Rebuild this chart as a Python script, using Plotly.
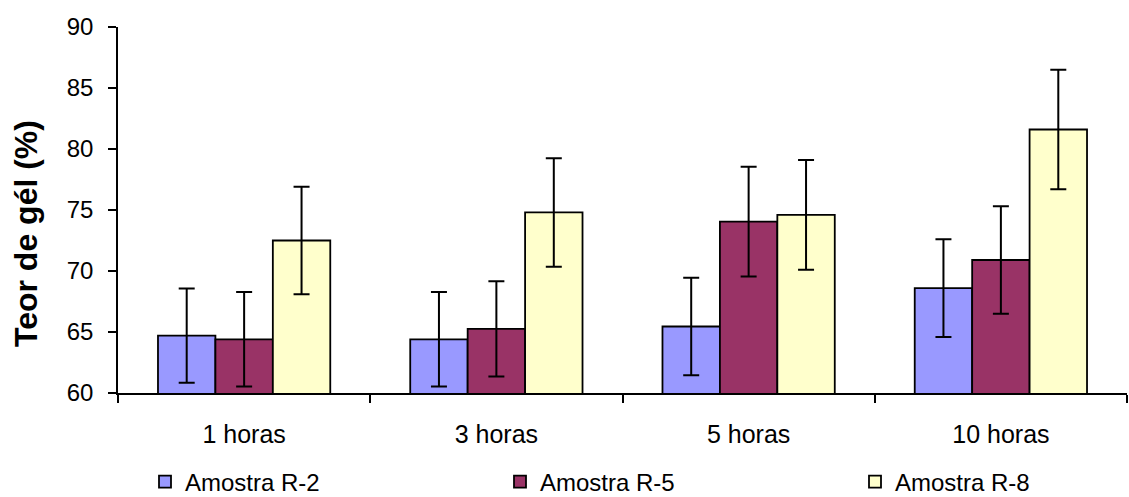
import plotly.graph_objects as go

categories = ["1 horas", "3 horas", "5 horas", "10 horas"]
series_names = ["Amostra R-2", "Amostra R-5", "Amostra R-8"]
r2_values = [64.7, 64.4, 65.45, 68.6]
r2_errors = [3.87, 3.87, 4.0, 4.0]
r5_values = [64.4, 65.25, 74.05, 70.9]
r5_errors = [3.87, 3.9, 4.5, 4.4]
r8_values = [72.5, 74.8, 74.6, 81.6]
r8_errors = [4.4, 4.45, 4.5, 4.9]
colors = ["#9999FF", "#993366", "#FFFFCC"]
legend_ids = ["legend", "legend2", "legend3"]
y_title = "Teor de gél (%)"

FONT = "Liberation Sans, Arial, sans-serif"

fig = go.Figure()
for name, vals, errs, col, lg in zip(series_names, [r2_values, r5_values, r8_values],
                                     [r2_errors, r5_errors, r8_errors], colors, legend_ids):
    fig.add_trace(go.Bar(
        x=categories, y=vals, name=name, legend=lg,
        marker=dict(color=col, line=dict(color="black", width=1.8)),
        error_y=dict(type="data", array=errs, visible=True,
                     color="black", thickness=2, width=8),
    ))

legend_style = dict(orientation="h", xref="container", yref="container",
                    xanchor="left", yanchor="middle", y=15 / 497,
                    font=dict(family=FONT, size=24, color="black"),
                    itemwidth=30, bgcolor="rgba(0,0,0,0)")

fig.update_layout(
    width=1129, height=497,
    margin=dict(l=118, r=2, t=27, b=104, autoexpand=False),
    paper_bgcolor="white", plot_bgcolor="white",
    barmode="group", bargap=0.317, bargroupgap=0,
    font=dict(family=FONT, size=24, color="black"),
    showlegend=True,
    legend=dict(x=145 / 1129, **legend_style),
    legend2=dict(x=500 / 1129, **legend_style),
    legend3=dict(x=855 / 1129, **legend_style),
    xaxis=dict(type="category", showline=True, linecolor="black", linewidth=1.5,
               ticks="outside", tickson="boundaries", ticklen=8, tickcolor="black",
               tickwidth=1.5, showgrid=False, tickfont=dict(size=25),
               ticklabelstandoff=18, automargin=False),
    yaxis=dict(range=[60, 90], dtick=5, showline=True, linecolor="black", linewidth=1.5,
               ticks="outside", ticklen=8, tickcolor="black", tickwidth=1.5,
               showgrid=False, zeroline=False, tickfont=dict(size=24),
               ticklabelstandoff=10, automargin=False),
    annotations=[dict(text="<b>" + y_title + "</b>", textangle=-90,
                      xref="paper", yref="paper", x=(26 - 118) / 1009, y=(393 - 234) / 366,
                      xanchor="center", yanchor="middle", showarrow=False,
                      font=dict(family=FONT, size=32, color="black"))],
)

fig.write_html("out.html", config={"displayModeBar": False})

with open("out.html", "r", encoding="utf-8") as f:
    html = f.read()
html = html.replace("<body>", '<body style="margin:0;padding:0;">', 1)
with open("out.html", "w", encoding="utf-8") as f:
    f.write(html)
